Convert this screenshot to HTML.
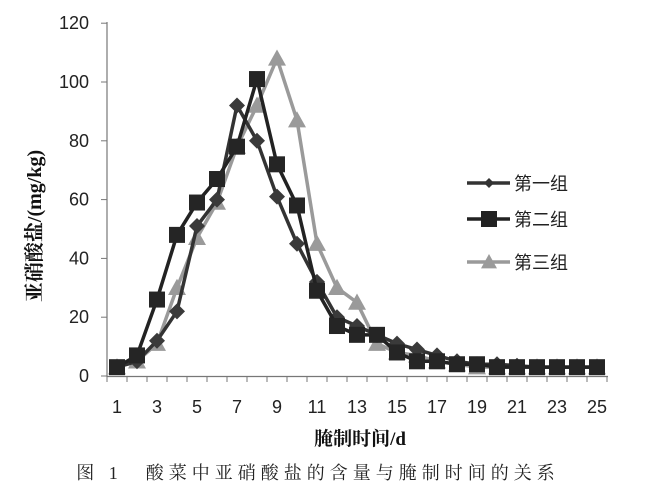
<!DOCTYPE html>
<html><head><meta charset="utf-8"><style>
body{margin:0;background:#fff;}
svg{display:block;font-family:"Liberation Sans","Noto Sans CJK SC",sans-serif;}
</style></head><body>
<svg id="s" width="648" height="500" viewBox="0 0 648 500">
<rect width="648" height="500" fill="#fff"/>
<g stroke="#777" stroke-width="1.2">
<line x1="107" y1="22" x2="107" y2="377"/>
<line x1="107" y1="376.5" x2="608" y2="376.5"/>
</g>
<g id="ticks" stroke="#777" stroke-width="1"></g>
<g font-size="18" fill="#222" text-anchor="end" id="yl"></g>
<g font-size="18" fill="#222" text-anchor="middle" id="xl"></g>
<text x="0" y="0" transform="translate(41,226) rotate(-90)" text-anchor="middle" font-size="20" font-weight="bold" fill="#111" font-family="'Liberation Serif','Noto Serif CJK SC',serif">亚硝酸盐/(mg/kg)</text>
<text x="360" y="445" text-anchor="middle" font-size="19" font-weight="bold" fill="#111" font-family="'Liberation Serif','Noto Serif CJK SC',serif">腌制时间/d</text>
<text x="318" y="479" text-anchor="middle" font-size="18" fill="#222" font-family="'Liberation Serif','Noto Serif CJK SC',serif" letter-spacing="5">图 1　酸菜中亚硝酸盐的含量与腌制时间的关系</text>
<g id="series"></g>
<g id="legend" font-size="18" fill="#222"></g>
</svg>
<script>
var NS="http://www.w3.org/2000/svg";
function el(p,t,a,txt){var e=document.createElementNS(NS,t);for(var k in a)e.setAttribute(k,a[k]);if(txt!=null)e.textContent=txt;document.getElementById(p).appendChild(e);return e;}
function X(d){return 117+(d-1)*20;}
function Y(v){return 376-v*2.94;}
for(var v=0;v<=120;v+=20){el("ticks","line",{x1:101,x2:107,y1:Y(v),y2:Y(v)});el("yl","text",{x:89,y:Y(v)+6},v);}
for(var i=0;i<=25;i++){var x=107+i*20;el("ticks","line",{x1:x,x2:x,y1:376,y2:382});}
for(var d=1;d<=25;d+=2)el("xl","text",{x:X(d),y:413},d);
var s1=[3,5,12,22,51,60,92,80,61,45,32,20,17,14,11,9,7,5,4,4,3.5,3,3,3,3];
var s2=[3,7,26,48,59,67,78,101,72,58,29,17,14,14,8,5,5,4,4,3,3,3,3,3,3];
var s3=[3,5,11,30,47,59,78,92,108,87,45,30,25,11,8,7,5,4,3,3,3,3,3,3,3];
function line(data,col){var p=data.map(function(v,i){return X(i+1)+","+Y(v)}).join(" ");el("series","polyline",{points:p,fill:"none",stroke:col,"stroke-width":3.5});}
function dia(x,y,c,r){el("series","polygon",{points:[x,y-r,x+r,y,x,y+r,x-r,y].join(" "),fill:c});}
function sq(x,y,c,r){el("series","rect",{x:x-r,y:y-r,width:2*r,height:2*r,fill:c});}
function tri(x,y,c,r){el("series","polygon",{points:[x,y-r,x+r,y+r*0.8,x-r,y+r*0.8].join(" "),fill:c});}
line(s3,"#9a9a9a");s3.forEach(function(v,i){tri(X(i+1),Y(v),"#9a9a9a",9);});
line(s1,"#333");s1.forEach(function(v,i){dia(X(i+1),Y(v),"#3a3a3a",8);});
line(s2,"#222");s2.forEach(function(v,i){sq(X(i+1),Y(v),"#252525",8);});
var L=[[183,"#333","第一组",dia,5],[219,"#222","第二组",sq,8],[262,"#9a9a9a","第三组",tri,8]];
L.forEach(function(l){el("series","line",{x1:467,x2:510,y1:l[0],y2:l[0],stroke:l[1],"stroke-width":3.5});l[3](489,l[0],l[1],l[4]);el("legend","text",{x:514,y:l[0]+7},l[2]);});
</script>
</body></html>
